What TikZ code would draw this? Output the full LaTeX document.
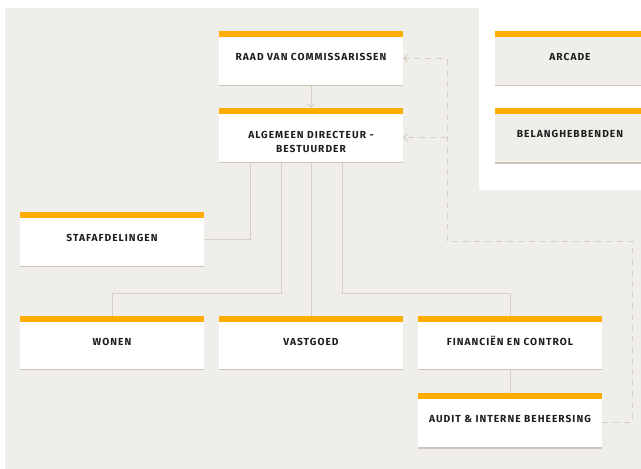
\documentclass[tikz,border=0pt]{standalone}
\usepackage{fontspec}
\setmainfont{Fira Sans}
\usetikzlibrary{arrows.meta}
\definecolor{bg}{HTML}{F0EEEA}
\definecolor{orgbar}{HTML}{FFAD00}
\definecolor{botline}{HTML}{CDC5BB}
\definecolor{connc}{HTML}{D6CFC6}
\definecolor{txtc}{HTML}{1E1E1E}
\begin{document}
\begin{tikzpicture}[x=1pt,y=-1pt,
  box/.style={rectangle, inner sep=0pt, minimum width=184pt, minimum height=55pt, fill=white},
  greybox/.style={box, fill=bg, minimum width=150pt},
  lbl/.style={inner sep=0pt, anchor=base, align=center, text=txtc,
     font=\fontsize{10.2}{14.3}\selectfont\addfontfeatures{LetterSpace=10}\bfseries},
  conn/.style={draw=connc, line width=1pt},
  dashline/.style={draw=connc, line width=1pt, dash pattern=on 6pt off 5pt},
  tip/.style={-{Straight Barb[length=3.5pt,width=7pt]}}
]
\useasboundingbox (0,0) rectangle (641,469);
\fill[white] (0,0) rectangle (641,469);
\fill[bg] (5,8) rectangle (641,469);
\fill[white] (479,0) rectangle (641,190);

% boxes
\node[box] (raad) at (311,58.5) {};
\node[box] (alg) at (311,135.5) {};
\node[greybox] (arcade) at (570,58.5) {};
\node[greybox] (bel) at (570,136) {};
\node[box] (staf) at (112,239.5) {};
\node[box, minimum height=54pt] (wonen) at (112,343) {};
\node[box, minimum height=54pt] (vast) at (311,343) {};
\node[box, minimum height=54pt] (fin) at (510,343) {};
\node[box] (audit) at (510,421) {};

\foreach \n in {raad,alg,arcade,bel,staf,wonen,vast,fin,audit}{
  \fill[orgbar] (\n.north west) rectangle ([yshift=-6pt]\n.north east);
  \draw[botline, line width=1.6pt] ([yshift=0.8pt]\n.south west) -- ([yshift=0.8pt]\n.south east);
}

% labels
\node[lbl] (raad-t) at ([yshift=-29.5pt]raad.north) {RAAD VAN COMMISSARISSEN};
\node[lbl] (alg-t) at ([yshift=-45pt]alg.north) {ALGEMEEN DIRECTEUR -\\BESTUURDER};
\node[lbl] (arcade-t) at ([yshift=-29.5pt]arcade.north) {ARCADE};
\node[lbl] (bel-t) at ([yshift=-29.5pt]bel.north) {BELANGHEBBENDEN};
\node[lbl] (staf-t) at ([yshift=-29.5pt]staf.north) {STAFAFDELINGEN};
\node[lbl] (wonen-t) at ([yshift=-29.5pt]wonen.north) {WONEN};
\node[lbl] (vast-t) at ([yshift=-29.5pt]vast.north) {VASTGOED};
\node[lbl] (fin-t) at ([yshift=-29.5pt]fin.north) {FINANCIËN EN CONTROL};
\node[lbl] (audit-t) at ([yshift=-29.5pt]audit.north) {AUDIT \& INTERNE BEHEERSING};

% connectors
\draw[conn, tip] (raad.south) -- (alg.north);
\draw[conn] ([xshift=-61pt]alg.south) |- (staf.east);
\draw[conn] ([xshift=-30pt]alg.south) -- ++(0,130) -| (wonen.north);
\draw[conn] (alg.south) -- (vast.north);
\draw[conn] ([xshift=31pt]alg.south) -- ++(0,130) -| (fin.north);
\draw[conn] (fin.south) -- (audit.north);

% dashed feedback line
\coordinate (d1) at (632,241);
\coordinate (d2) at (447,241);
\coordinate (algin) at ([yshift=-2pt]alg.east);
\draw[dashline, tip] ([yshift=-1pt]audit.east) -| (d1) -- (d2) |- (raad.east);
\draw[dashline, tip] (d2 |- algin) -- (algin);
\end{tikzpicture}
\end{document}
